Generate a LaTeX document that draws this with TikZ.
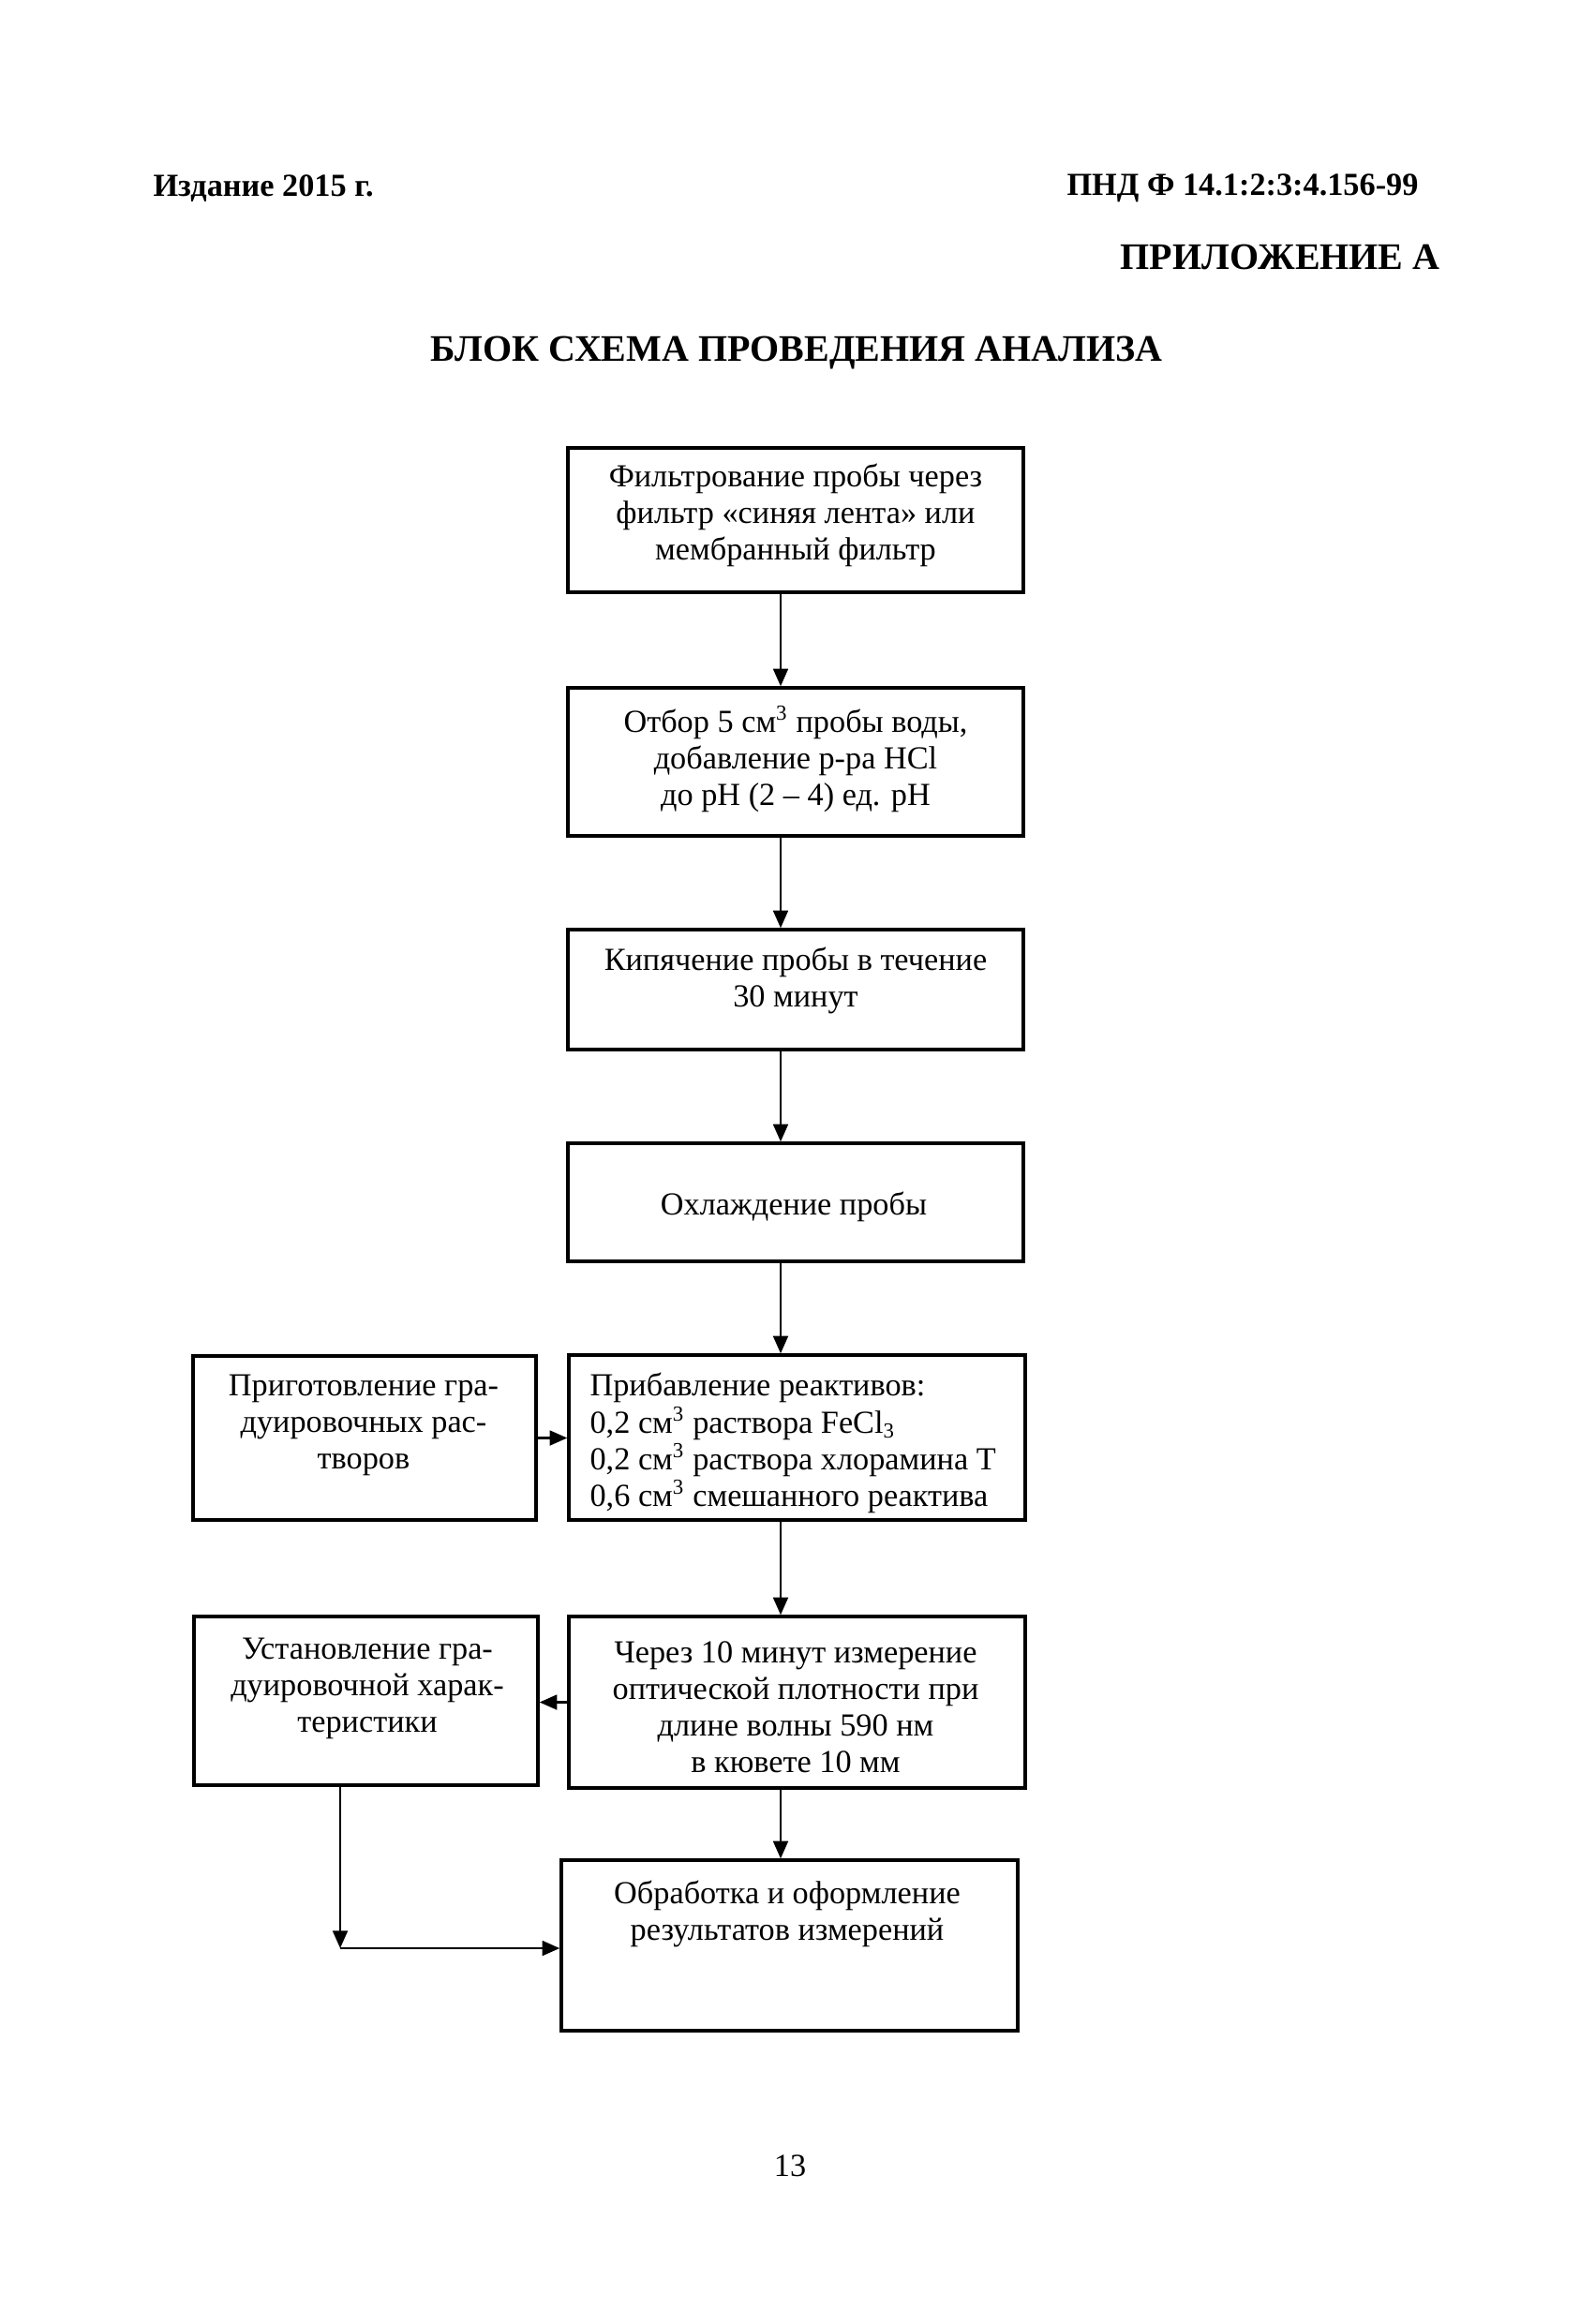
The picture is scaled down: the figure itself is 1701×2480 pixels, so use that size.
\documentclass[tikz,border=0pt]{standalone}
\usepackage{fontspec}
\setmainfont{Liberation Serif}
\usetikzlibrary{arrows.meta,fit}
\begin{document}
\begin{tikzpicture}[x=0.35pt,y=-0.35pt,
  box/.style={draw,line width=1.2pt,inner sep=0pt},
  txt/.style={inner sep=0pt,align=center,font=\fontsize{12}{13.7}\selectfont},
  txtl/.style={inner sep=0pt,align=left,anchor=west,font=\fontsize{12}{13.7}\selectfont},
  hdr/.style={inner sep=0pt,font=\bfseries\fontsize{12}{14}\selectfont},
  hdrbig/.style={inner sep=0pt,font=\bfseries\fontsize{14}{16}\selectfont},
  arr/.style={-{Triangle[length=6.5pt,width=5.5pt]},line width=0.9pt}]
\useasboundingbox (0,0) rectangle (1701,2480);
% headers
\node[hdr,anchor=west] (izd) at (163,201) {Издание 2015 г.};
\node[hdr,anchor=east] (pnd) at (1514,201) {ПНД Ф 14.1:2:3:4.156-99};
\node[hdrbig,anchor=east] (pril) at (1537,274) {ПРИЛОЖЕНИЕ А};
\node[hdrbig] (title) at (850,377) {БЛОК СХЕМА ПРОВЕДЕНИЯ АНАЛИЗА};
% boxes
\node[box,fit={(606,478) (1092,632)}] (b1) {};
\node[box,fit={(606,734) (1092,892)}] (b2) {};
\node[box,fit={(606,992) (1092,1120)}] (b3) {};
\node[box,fit={(606,1220) (1092,1346)}] (b4) {};
\node[box,fit={(607,1446) (1094,1622)}] (b5r) {};
\node[box,fit={(206,1447) (572,1622)}] (b5l) {};
\node[box,fit={(607,1725) (1094,1908)}] (b6r) {};
\node[box,fit={(207,1725) (574,1905)}] (b6l) {};
\node[box,fit={(599,1985) (1086,2167)}] (b7) {};
% texts
\node[txt] (t1) at (849,550) {Фильтрование пробы через\\фильтр «синяя лента» или\\мембранный фильтр};
\node[txt] (t2) at (849,810) {Отбор 5 см\textsuperscript{3} пробы воды,\\добавление р-ра HCl\\до pH (2 – 4) ед. pH};
\node[txt] (t3) at (849,1046) {Кипячение пробы в течение\\30 минут};
\node[txt] (t4) at (847,1288) {Охлаждение пробы};
\node[txtl] (t5r) at (629,1540) {Прибавление реактивов:\\0,2 см\textsuperscript{3} раствора FeCl\textsubscript{3}\\0,2 см\textsuperscript{3} раствора хлорамина Т\\0,6 см\textsuperscript{3} смешанного реактива};
\node[txt] (t5l) at (388,1521) {Приготовление гра-\\дуировочных рас-\\творов};
\node[txt] (t6r) at (849,1822) {Через 10 минут измерение\\оптической плотности при\\длине волны 590 нм\\в кювете 10 мм};
\node[txt] (t6l) at (392,1802) {Установление гра-\\дуировочной харак-\\теристики};
\node[txt] (t7) at (840,2042) {Обработка и оформление\\результатов измерений};
\node[txt] (pg) at (843,2311) {13};
% connectors
\coordinate (cx) at (833,0);
\coordinate (lx) at (363,2079);
\draw[arr] (b1.south -| cx) -- (b2.north -| cx);
\draw[arr] (b2.south -| cx) -- (b3.north -| cx);
\draw[arr] (b3.south -| cx) -- (b4.north -| cx);
\draw[arr] (b4.south -| cx) -- (b5r.north -| cx);
\draw[arr] (b5r.south -| cx) -- (b6r.north -| cx);
\draw[arr] (b6r.south -| cx) -- (b7.north -| cx);
\draw[arr] (b5l.east) -- (b5l.east -| b5r.west);
\draw[arr] (b6r.west) -- (b6r.west -| b6l.east);
\draw[arr] (b6l.south -| lx) -- (lx);
\draw[arr] (lx) -- (lx -| b7.west);
\end{tikzpicture}
\end{document}
